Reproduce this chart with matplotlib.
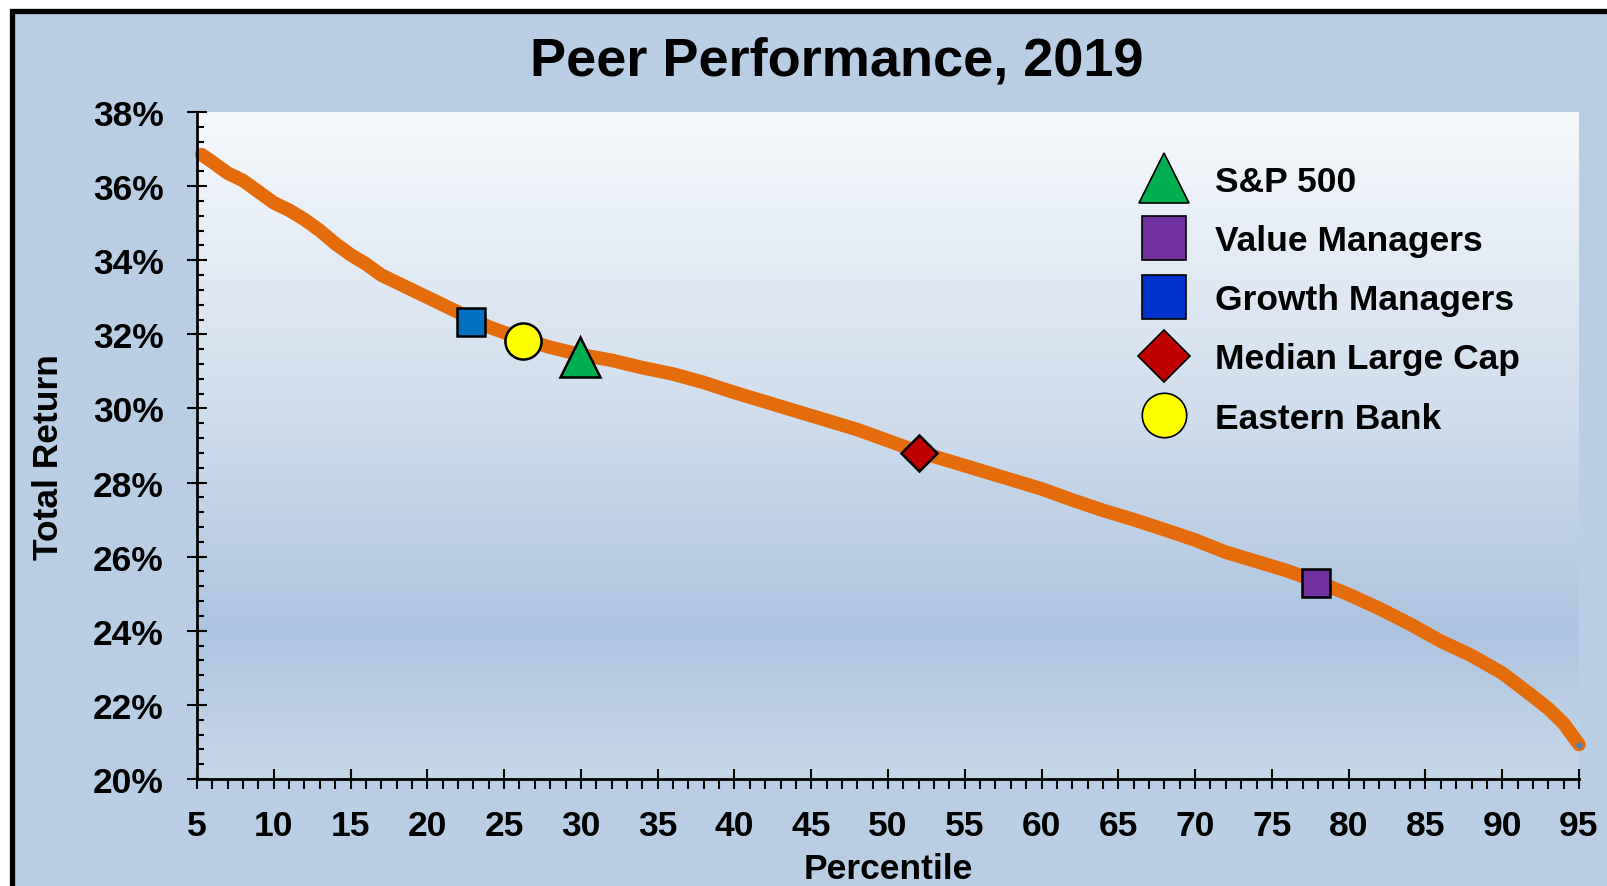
import matplotlib
matplotlib.use("Agg")
import matplotlib.pyplot as plt
import numpy as np
from matplotlib.colors import LinearSegmentedColormap
from matplotlib.lines import Line2D
from matplotlib.patches import Rectangle
from matplotlib.ticker import MultipleLocator, FuncFormatter

# ---- data ----
percentile = [5.3, 6, 7, 8, 9, 10, 11, 12, 13, 14, 15, 16, 17, 18, 20, 22, 24, 26, 28, 30, 32, 34, 36, 38,
              40, 42, 44, 46, 48, 50, 52, 54, 56, 58, 60, 62, 64, 66, 68, 70, 72, 74,
              76, 78, 80, 82, 84, 86, 88, 90, 92, 93, 94, 95]
total_return = [36.85, 36.65, 36.35, 36.15, 35.85, 35.55, 35.35, 35.1, 34.8, 34.45, 34.15, 33.9,
                33.6, 33.4, 33.0, 32.6, 32.2,
                31.9, 31.65, 31.45, 31.3, 31.1, 30.93, 30.7, 30.43, 30.18, 29.93, 29.68,
                29.43, 29.13, 28.83, 28.58, 28.33, 28.08, 27.83, 27.53, 27.25, 27.0, 26.73,
                26.45, 26.12, 25.87, 25.62, 25.32, 24.98, 24.6, 24.18, 23.72, 23.33, 22.86,
                22.23, 21.9, 21.5, 20.93]

peer_names = ["S&P 500", "Value Managers", "Growth Managers", "Median Large Cap", "Eastern Bank"]
peer_x = [29.95, 77.85, 22.85, 52.05, 26.25]
peer_y = [31.38, 25.30, 32.33, 28.79, 31.82]

title = "Peer Performance, 2019"
x_label = "Percentile"
y_label = "Total Return"

# ---- styles ----
W, H, DPI = 1608, 887, 100
FS = 25.5
BOLD = dict(family="Liberation Sans", weight="bold")

fig = plt.figure(figsize=(W / DPI, H / DPI), dpi=DPI, facecolor="white")
# outer frame
fig.add_artist(Rectangle((12 / W, -0.1), 1.2, (H - 12) / H + 0.1, transform=fig.transFigure,
                         facecolor="#B9CDE5", edgecolor="black", linewidth=3.8, zorder=-10))

ax = fig.add_axes([197 / W, (H - 780) / H, (1579 - 197) / W, (780 - 113) / H])
ax.set_facecolor("none")

# gradient background of plot area
cmap = LinearSegmentedColormap.from_list("bg", [(0.0, "#F6F9FC"), (0.45, "#D0DDED"),
                                                (0.78, "#ADC4DF"), (1.0, "#C7D7EA")])
grad = np.linspace(0, 1, 256).reshape(-1, 1)
ax.imshow(grad, extent=[0, 1, 0, 1], transform=ax.transAxes, aspect="auto", cmap=cmap,
          zorder=0, origin="upper")

ax.plot(percentile, total_return, color="#E46C0A", linewidth=9.8, solid_capstyle="round",
        solid_joinstyle="round", zorder=2, clip_on=False)
ax.plot(percentile[-1:], total_return[-1:], marker="D", color="#4F81BD", markersize=3,
        linestyle="none", zorder=3, clip_on=False)

plot_markers = ["^", "s", "s", "D", "o"]
plot_colors = ["#00B050", "#7030A0", "#0070C0", "#C00000", "#FFFF00"]
plot_sizes = [29, 20, 20, 18.3, 26]
for xv, yv, m, c, s in zip(peer_x, peer_y, plot_markers, plot_colors, plot_sizes):
    ax.plot([xv], [yv], marker=m, color=c, markersize=s, markeredgecolor="black",
            markeredgewidth=1.8, linestyle="none", zorder=4)

legend_colors = ["#00B050", "#7030A0", "#0033CC", "#C00000", "#FFFF00"]
legend_sizes = [36, 32, 32, 26.5, 32]
handles = [Line2D([], [], marker=m, color=c, markersize=s, markeredgecolor="black",
                  markeredgewidth=1.2, linestyle="none")
           for m, c, s in zip(plot_markers, legend_colors, legend_sizes)]
leg = ax.legend(handles, peer_names, loc="upper left", bbox_to_anchor=(0.6816, 0.921),
                frameon=False, borderpad=0, borderaxespad=0, handlelength=1.4,
                handletextpad=0.76, labelspacing=0.74,
                prop=dict(family="Liberation Sans", weight="bold", size=FS))

ax.set_xlim(5, 95)
ax.set_ylim(20, 38)
for s in ["top", "right"]:
    ax.spines[s].set_visible(False)
for s in ["left", "bottom"]:
    ax.spines[s].set_linewidth(2.0)
    ax.spines[s].set_zorder(5)

ax.xaxis.set_major_locator(MultipleLocator(5))
ax.xaxis.set_minor_locator(MultipleLocator(1))
ax.yaxis.set_major_locator(MultipleLocator(2))
ax.yaxis.set_minor_locator(MultipleLocator(0.4))
ax.yaxis.set_major_formatter(FuncFormatter(lambda v, p: f"{v:.0f}%"))

ax.tick_params(axis="x", which="major", direction="inout", length=14.4, width=1.5, pad=14.5)
ax.tick_params(axis="x", which="minor", direction="out", length=7.2, width=1.5)
ax.tick_params(axis="y", which="major", direction="inout", length=13.7, width=1.5, pad=17)
ax.tick_params(axis="y", which="minor", direction="in", length=5.0, width=1.5)
for lab in ax.get_xticklabels() + ax.get_yticklabels():
    lab.set_fontfamily("Liberation Sans")
    lab.set_fontweight("bold")
    lab.set_fontsize(FS)

ax.set_xlabel(x_label, fontsize=FS, **BOLD)
ax.xaxis.label.set_verticalalignment("baseline")
ax.xaxis.set_label_coords(0.5, (780 - 879) / 667)
ax.set_ylabel(y_label, fontsize=FS, **BOLD)
ax.yaxis.label.set_verticalalignment("center")
ax.yaxis.set_label_coords((48 - 197) / 1382, 0.484)

fig.text(837 / W, (H - 75) / H, title, ha="center", va="baseline", fontsize=39, **BOLD)

fig.savefig("out.png", dpi=DPI, facecolor=fig.get_facecolor())
